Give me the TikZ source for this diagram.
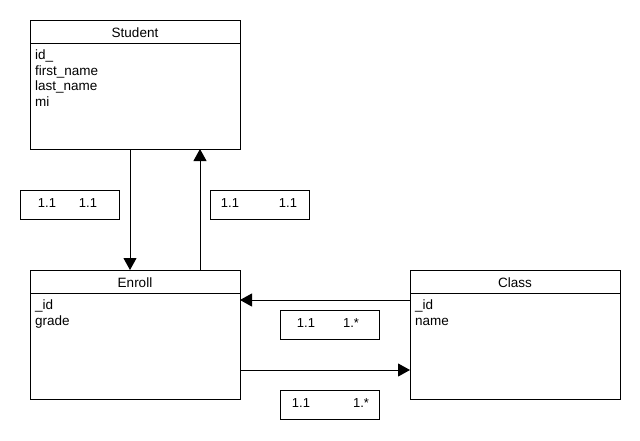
\documentclass[tikz,border=0pt]{standalone}
\usepackage{fontspec}
\setmainfont{Liberation Sans}
\usetikzlibrary{arrows.meta}

\tikzstyle{class box}=[draw,line width=1pt,minimum width=210pt,minimum height=129pt,
    inner sep=0pt,outer sep=0pt,anchor=north west]
\tikzstyle{class title}=[inner sep=0pt,font=\fontsize{13.5}{15}\selectfont]
\tikzstyle{class attr}=[inner sep=0pt,anchor=base west,font=\fontsize{13.5}{15}\selectfont]
\tikzstyle{mult box}=[draw,line width=1pt,minimum width=99pt,minimum height=29pt,
    inner sep=0pt,outer sep=0pt]
\tikzstyle{mult text}=[inner sep=0pt,anchor=base,font=\fontsize{13}{15}\selectfont]
\tikzstyle{association}=[line width=1pt,-{Triangle[length=12pt,width=13pt]}]
\newcommand{\umlclass}[4]{
    \node[class title,anchor=base] at ([yshift=-17.5pt]#2.north) {#3};
    \draw[line width=1pt] ([yshift=-23pt]#2.north west) -- ([yshift=-23pt]#2.north east);
    \foreach \attr [count=\i] in {#4}
        \node[class attr] at ([xshift=5pt,yshift={-23.5pt-15.8pt*\i}]#2.north west) {\attr};
}
\newcommand{\multbox}[6]{
    \node[mult box] at (#1) (#2) {};
    \node[mult text] at ([xshift=#3,yshift=-2.7pt]#2.west) {#4};
    \node[mult text] at ([xshift=#5,yshift=-2.7pt]#2.west) {#6};
}

\begin{document}
\begin{tikzpicture}[x=1pt,y=-1pt]
    \useasboundingbox[fill=white] (0,0) rectangle (640,440);
    %
    \node[class box] at (30,20) (student) {};
    \umlclass{30,20}{student}{Student}{id\_,first\_name,last\_name,mi}
    \node[class box] at (30,270) (enroll) {};
    \umlclass{30,270}{enroll}{Enroll}{\_id,grade}
    \node[class box] at (410,270) (class) {};
    \umlclass{410,270}{class}{Class}{\_id,name}
    %
    \multbox{69.5,204.5}{se}{27pt}{1.1}{68pt}{1.1}
    \multbox{259.5,204.5}{es}{20pt}{1.1}{78pt}{1.1}
    \multbox{329.5,324.5}{ce}{26pt}{1.1}{71pt}{1.*}
    \multbox{329.5,404.5}{ec}{21pt}{1.1}{81pt}{1.*}
    %
    \draw[association] ([xshift=-5pt]student.south) -- ([xshift=-5pt]enroll.north);
    \draw[association] ([xshift=65pt]enroll.north) -- ([xshift=65pt]student.south);
    \draw[association] ([yshift=-30pt]class.north west) -- ([yshift=-30pt]enroll.north east);
    \draw[association] ([yshift=-100pt]enroll.north east) -- ([yshift=-100pt]class.north west);
\end{tikzpicture}
\end{document}
